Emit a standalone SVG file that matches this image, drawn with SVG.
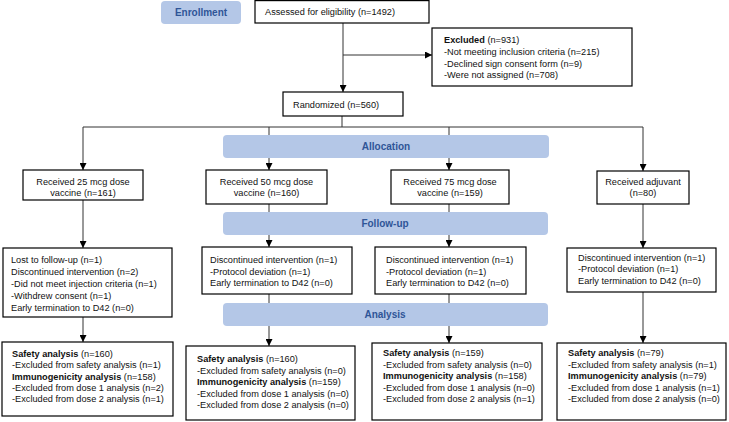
<svg xmlns="http://www.w3.org/2000/svg" width="729" height="422" viewBox="0 0 729 422">
<defs>
<marker id="ah" viewBox="0 0 10 10" refX="10" refY="5" markerWidth="7" markerHeight="7" markerUnits="userSpaceOnUse" orient="auto">
<path d="M0,0 L10,5 L0,10 z" fill="#000"/>
</marker>
<style>
text{font-family:"Liberation Sans",Arial,sans-serif;font-size:9.2px;fill:#111}
.box{fill:#fff;stroke:#000;stroke-width:1.2}
.bar{fill:#b4c7e7}
.bt{font-size:10px;font-weight:bold;fill:#2f5597;text-anchor:middle}
.c{text-anchor:middle}
.b{font-weight:bold}
.ln{fill:none;stroke:#333;stroke-width:1}
.ar{fill:none;stroke:#333;stroke-width:1;marker-end:url(#ah)}
</style>
</defs>
<rect width="729" height="422" fill="#fff"/>

<g id="connectors">
<path class="ln" d="M343,23 V55"/>
<path class="ar" d="M343,55 H432"/>
<path class="ar" d="M343,55 V92"/>
<path class="ln" d="M342,116 V127"/>
<path class="ln" d="M83,127 H643"/>
<path class="ar" d="M83,127 V170"/>
<path class="ar" d="M269,127 V170"/>
<path class="ar" d="M449,127 V170"/>
<path class="ar" d="M643,127 V171"/>
<path class="ar" d="M83,200 V248"/>
<path class="ln" d="M269,204 V212"/>
<path class="ln" d="M449,204 V212"/>
<path class="ar" d="M269,235 V247"/>
<path class="ar" d="M449,235 V247"/>
<path class="ar" d="M643,204 V248"/>
<path class="ar" d="M83,317 V342"/>
<path class="ln" d="M269,294 V303"/>
<path class="ln" d="M449,294 V303"/>
<path class="ar" d="M269,326 V346"/>
<path class="ar" d="M449,326 V343"/>
<path class="ar" d="M643,292 V343"/>
</g>

<g id="enrollment">
<rect class="bar" x="161" y="1" width="80" height="23" rx="4"/>
<text class="bt" x="201" y="16">Enrollment</text>
</g>
<g id="allocation">
<rect class="bar" x="223" y="135" width="326" height="23" rx="4"/>
<text class="bt" x="386" y="150">Allocation</text>
</g>
<g id="followup">
<rect class="bar" x="223" y="212" width="325" height="23" rx="4"/>
<text class="bt" x="385" y="227">Follow-up</text>
</g>
<g id="analysis">
<rect class="bar" x="223" y="303" width="325" height="23" rx="4"/>
<text class="bt" x="385" y="318">Analysis</text>
</g>

<g id="assessed">
<rect class="box" x="255" y="0.6" width="174" height="22.4"/>
<text x="265" y="15">Assessed for eligibility (n=1492)</text>
</g>
<g id="excluded">
<rect class="box" x="432" y="28" width="200" height="58"/>
<text x="444" y="43"><tspan class="b">Excluded</tspan> (n=931)</text>
<text x="444" y="55">-Not meeting inclusion criteria (n=215)</text>
<text x="444" y="66.5">-Declined sign consent form (n=9)</text>
<text x="444" y="78">-Were not assigned (n=708)</text>
</g>
<g id="randomized">
<rect class="box" x="283" y="92" width="120" height="24"/>
<text x="293" y="107.5">Randomized (n=560)</text>
</g>

<g id="dose25">
<rect class="box" x="23" y="170" width="120" height="30"/>
<text class="c" x="83" y="184.5">Received 25 mcg dose</text>
<text class="c" x="83" y="196">vaccine (n=161)</text>
</g>
<g id="dose50">
<rect class="box" x="206" y="170" width="121" height="34"/>
<text class="c" x="266.5" y="184.5">Received 50 mcg dose</text>
<text class="c" x="266.5" y="196">vaccine (n=160)</text>
</g>
<g id="dose75">
<rect class="box" x="391" y="170" width="118" height="34"/>
<text class="c" x="450" y="184.5">Received 75 mcg dose</text>
<text class="c" x="450" y="196">vaccine (n=159)</text>
</g>
<g id="adjuvant">
<rect class="box" x="597" y="171" width="92" height="33"/>
<text class="c" x="643" y="184.5">Received adjuvant</text>
<text class="c" x="643" y="196">(n=80)</text>
</g>

<g id="fu25">
<rect class="box" x="3" y="248" width="169" height="69"/>
<text x="11" y="263">Lost to follow-up (n=1)</text>
<text x="11" y="275">Discontinued intervention (n=2)</text>
<text x="11" y="287">-Did not meet injection criteria (n=1)</text>
<text x="11" y="299">-Withdrew consent (n=1)</text>
<text x="11" y="310.5">Early termination to D42 (n=0)</text>
</g>
<g id="fu50">
<rect class="box" x="202" y="247" width="150" height="47"/>
<text x="210" y="263">Discontinued intervention (n=1)</text>
<text x="210" y="274.5">-Protocol deviation (n=1)</text>
<text x="210" y="286">Early termination to D42 (n=0)</text>
</g>
<g id="fu75">
<rect class="box" x="375" y="247" width="151" height="47"/>
<text x="386" y="263">Discontinued intervention (n=1)</text>
<text x="386" y="274.5">-Protocol deviation (n=1)</text>
<text x="386" y="286">Early termination to D42 (n=0)</text>
</g>
<g id="fuadj">
<rect class="box" x="567" y="248" width="149" height="44"/>
<text x="578" y="260.5">Discontinued intervention (n=1)</text>
<text x="578" y="272">-Protocol deviation (n=1)</text>
<text x="578" y="283.5">Early termination to D42 (n=0)</text>
</g>

<g id="an25">
<rect class="box" x="2" y="342" width="171" height="74"/>
<text x="12" y="356.5"><tspan class="b">Safety analysis</tspan> (n=160)</text>
<text x="12" y="367.5">-Excluded from safety analysis (n=1)</text>
<text x="12" y="379.5"><tspan class="b">Immunogenicity analysis</tspan> (n=158)</text>
<text x="12" y="390.5">-Excluded from dose 1 analysis (n=2)</text>
<text x="12" y="401.5">-Excluded from dose 2 analysis (n=1)</text>
</g>
<g id="an50">
<rect class="box" x="186" y="346" width="169" height="74"/>
<text x="197" y="362"><tspan class="b">Safety analysis</tspan> (n=160)</text>
<text x="197" y="373.5">-Excluded from safety analysis (n=0)</text>
<text x="197" y="385"><tspan class="b">Immunogenicity analysis</tspan> (n=159)</text>
<text x="197" y="396.5">-Excluded from dose 1 analysis (n=0)</text>
<text x="197" y="408">-Excluded from dose 2 analysis (n=0)</text>
</g>
<g id="an75">
<rect class="box" x="372" y="343" width="170" height="77"/>
<text x="383" y="356"><tspan class="b">Safety analysis</tspan> (n=159)</text>
<text x="383" y="367.5">-Excluded from safety analysis (n=0)</text>
<text x="383" y="378.5"><tspan class="b">Immunogenicity analysis</tspan> (n=158)</text>
<text x="383" y="390.5">-Excluded from dose 1 analysis (n=0)</text>
<text x="383" y="401.5">-Excluded from dose 2 analysis (n=1)</text>
</g>
<g id="anadj">
<rect class="box" x="557" y="343" width="169" height="77"/>
<text x="568" y="356"><tspan class="b">Safety analysis</tspan> (n=79)</text>
<text x="568" y="367.5">-Excluded from safety analysis (n=1)</text>
<text x="568" y="378.5"><tspan class="b">Immunogenicity analysis</tspan> (n=79)</text>
<text x="568" y="390.5">-Excluded from dose 1 analysis (n=1)</text>
<text x="568" y="401.5">-Excluded from dose 2 analysis (n=0)</text>
</g>
</svg>
